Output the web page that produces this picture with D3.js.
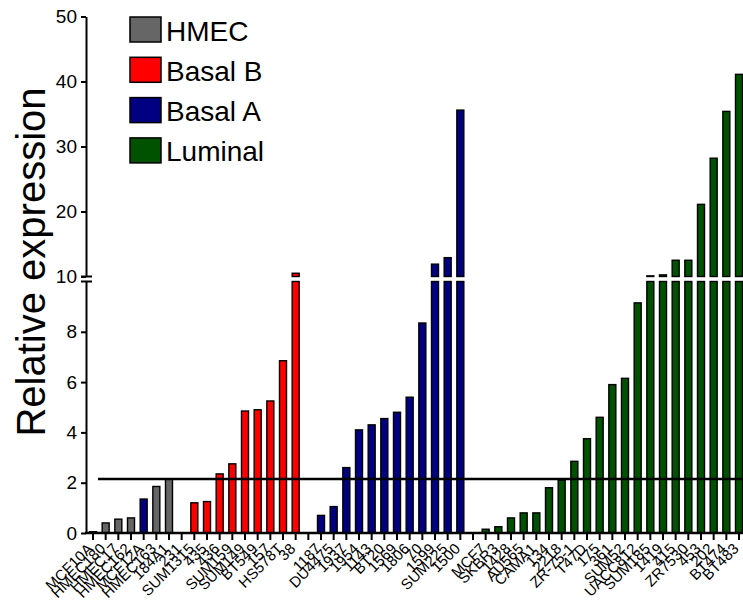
<!DOCTYPE html>
<html>
<head>
<meta charset="utf-8">
<script src="https://cdn.jsdelivr.net/npm/d3@7"></script>
<style>
  html, body { margin: 0; padding: 0; background: #fff; }
  svg { display: block; font-family: "Liberation Sans", Arial, sans-serif; }
</style>
</head>
<body>
<svg id="chart" width="743" height="600"></svg>
<script>
// Cell lines in plotting order; empty strings are spacer slots between subtypes.
const cellLines = [
  "MCF10A", "HMEC180", "HMEC17", "HMEC162", "MCF12A", "HMEC163", "184A1",
  "231",
  "SUM1315", "435", "436", "SUM159", "SUM149", "BT549", "157", "HS578T", "38",
  "",
  "1187", "DU4475", "1937", "1954", "1143", "BT20", "1569", "1806", "70", "1599", "SUM225", "1500",
  "",
  "MCF7", "SKBR3", "1428", "AU565", "CAMA1", "134", "2218", "ZR-75-1", "T47D", "175", "361",
  "SUM52", "UACC812", "SUM185", "1419", "415", "ZR7530", "453", "202", "BT474", "BT483"
];

// Relative expression per slot (null = no bar).
const expression = [
  0.05, 0.4, 0.55, 0.6, 1.35, 1.85, 2.15,
  null,
  1.2, 1.25, 2.35, 2.75, 4.85, 4.9, 5.25, 6.85, 10.5,
  null,
  0.7, 1.05, 2.6, 4.1, 4.3, 4.55, 4.8, 5.4, 8.35, 11.9, 12.9, 35.6,
  null,
  0.15, 0.25, 0.6, 0.8, 0.8, 1.8, 2.1, 2.85, 3.75, 4.6, 5.9,
  6.15, 9.15, 10.1, 10.25, 12.5, 12.5, 21.1, 28.2, 35.4, 41.1
];

// Subtype for each slot.
const subtype = [
  "HMEC", "HMEC", "HMEC", "HMEC", "Basal A", "HMEC", "HMEC",
  null,
  "Basal B", "Basal B", "Basal B", "Basal B", "Basal B", "Basal B", "Basal B", "Basal B", "Basal B",
  null,
  "Basal A", "Basal A", "Basal A", "Basal A", "Basal A", "Basal A", "Basal A", "Basal A", "Basal A", "Basal A", "Basal A", "Basal A",
  null,
  "Luminal", "Luminal", "Luminal", "Luminal", "Luminal", "Luminal", "Luminal", "Luminal", "Luminal", "Luminal", "Luminal",
  "Luminal", "Luminal", "Luminal", "Luminal", "Luminal", "Luminal", "Luminal", "Luminal", "Luminal", "Luminal"
];

const legendLabels = ["HMEC", "Basal B", "Basal A", "Luminal"];
const legendColors = ["#666666", "#ff0000", "#000080", "#005200"];

const lowerTicks = [0, 2, 4, 6, 8];
const upperTicks = [10, 20, 30, 40, 50];
const breakValue = 10;
const thresholdValue = 2.15;

const svg = d3.select("#chart");
const color = d3.scaleOrdinal().domain(legendLabels).range(legendColors);

const axisX = 86;
const x = d3.scalePoint()
  .domain(d3.range(cellLines.length))
  .range([93, 739]);
const barW = 7;

// Broken y axis: two linear segments meeting at the break value.
const yLow = d3.scaleLinear().domain([0, breakValue]).range([533, 281.5]);
const yHigh = d3.scaleLinear().domain([breakValue, 50]).range([276.5, 16.5]);

const bars = cellLines.map((name, i) => ({ i, name, v: expression[i], t: subtype[i] }))
  .filter(d => d.v != null);

// Lower segment of each bar
svg.append("g").selectAll("rect")
  .data(bars)
  .join("rect")
  .attr("x", d => x(d.i) - barW / 2)
  .attr("y", d => yLow(Math.min(d.v, breakValue)))
  .attr("width", barW)
  .attr("height", d => yLow(0) - yLow(Math.min(d.v, breakValue)))
  .attr("fill", d => color(d.t))
  .attr("stroke", "#000")
  .attr("stroke-width", 1.4);

// Upper segment for bars that pass the break
svg.append("g").selectAll("rect")
  .data(bars.filter(d => d.v > breakValue))
  .join("rect")
  .attr("x", d => x(d.i) - barW / 2)
  .attr("y", d => yHigh(d.v))
  .attr("width", barW)
  .attr("height", d => yHigh(breakValue) - yHigh(d.v))
  .attr("fill", d => color(d.t))
  .attr("stroke", "#000")
  .attr("stroke-width", 1.4);

// Threshold line
svg.append("line")
  .attr("x1", 98).attr("x2", 743)
  .attr("y1", yLow(thresholdValue)).attr("y2", yLow(thresholdValue))
  .attr("stroke", "#000").attr("stroke-width", 2.5);

// Y axes
const styleAxis = g => {
  g.selectAll(".domain").attr("stroke-width", 2);
  g.selectAll(".tick line").attr("stroke-width", 2);
  g.selectAll(".tick text").attr("font-size", 19).attr("fill", "#000")
    .attr("font-family", "'Liberation Sans', Arial, sans-serif");
};
svg.append("g")
  .attr("transform", `translate(${axisX},0)`)
  .call(d3.axisLeft(yLow).tickValues(lowerTicks).tickSize(5).tickSizeOuter(0).tickPadding(4))
  .call(styleAxis);
svg.append("g")
  .attr("transform", `translate(${axisX},0)`)
  .call(d3.axisLeft(yHigh).tickValues(upperTicks).tickSize(5).tickSizeOuter(0).tickPadding(4))
  .call(styleAxis);

// Break marks on the y axis
[yHigh(breakValue), yLow(breakValue)].forEach(yy => {
  svg.append("line")
    .attr("x1", axisX - 5).attr("x2", axisX + 6)
    .attr("y1", yy).attr("y2", yy)
    .attr("stroke", "#000").attr("stroke-width", 2);
});

// X axis
const xAxis = svg.append("g").attr("transform", `translate(0,${yLow(0)})`);
xAxis.append("line")
  .attr("x1", axisX - 1).attr("x2", 743)
  .attr("stroke", "#000").attr("stroke-width", 2.5);
xAxis.selectAll(".xt")
  .data(d3.range(cellLines.length))
  .join("line")
  .attr("class", "xt")
  .attr("x1", d => x(d)).attr("x2", d => x(d))
  .attr("y1", 0).attr("y2", 7)
  .attr("stroke", "#000").attr("stroke-width", 2);
xAxis.selectAll(".xl")
  .data(cellLines.map((n, i) => ({ n, i })).filter(d => d.n !== ""))
  .join("text")
  .attr("class", "xl")
  .attr("transform", d => `translate(${x(d.i) - 3},${13}) rotate(-45)`)
  .attr("text-anchor", "end")
  .attr("dy", "0.35em")
  .attr("font-size", 15)
  .attr("fill", "#000")
  .text(d => d.n);

// Y axis title
svg.append("text")
  .attr("transform", "translate(45,262) rotate(-90)")
  .attr("text-anchor", "middle")
  .attr("font-size", 40)
  .attr("fill", "#000")
  .text("Relative expression");

// Legend
const legend = svg.append("g").attr("transform", "translate(130,17)");
const rows = legend.selectAll("g")
  .data(legendLabels)
  .join("g")
  .attr("transform", (d, i) => `translate(0,${i * 40.3})`);
rows.append("rect")
  .attr("width", 31).attr("height", 25)
  .attr("fill", d => color(d))
  .attr("stroke", "#000").attr("stroke-width", 1.5);
rows.append("text")
  .attr("x", 36).attr("y", 23.5)
  .attr("font-size", 28)
  .attr("fill", "#000")
  .text(d => d);
</script>
</body>
</html>
